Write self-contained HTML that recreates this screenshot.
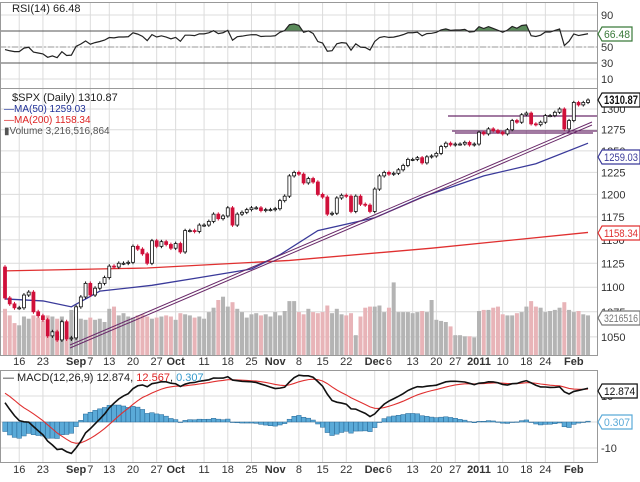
<!DOCTYPE html>
<html><head><meta charset="utf-8"><style>
html,body{margin:0;padding:0;background:#fff;}
svg{display:block;font-family:"Liberation Sans",sans-serif;}
</style></head><body>
<svg id="chart" width="640" height="482" viewBox="0 0 640 482" xmlns="http://www.w3.org/2000/svg">
<rect x="0" y="0" width="640" height="482" fill="#fff"/>
<g id="grid"></g>
<g id="rsi"></g>
<g id="vol"></g>
<g id="price"></g>
<g id="macd"></g>
<g id="axes"></g>
<g id="legends">
<text x="12" y="12" font-size="11" fill="#222">RSI(14) 66.48</text>
<text x="12" y="101" font-size="11" fill="#222">$SPX (Daily) 1310.87</text>
<text x="4" y="112" font-size="10" fill="#223399">—MA(50) 1259.03</text>
<text x="4" y="123" font-size="10" fill="#dd2222">—MA(200) 1158.34</text>
<text x="4" y="134" font-size="10" fill="#555">▮Volume 3,216,516,864</text>
<text x="3" y="381" font-size="11" fill="#222">— MACD(12,26,9) 12.874, <tspan fill="#dd2222">12.567</tspan>, <tspan fill="#3399cc">0.307</tspan></text>
</g>
</svg>
<script>
const closes=[1089,1083,1079,1079,1092,1095,1075,1071,1067,1051,1055,1047,1065,1048,1049,
1080,1090,1104,1092,1099,1104,1110,1122,1121,1125,1125,1126,1143,1140,1135,1125,1149,1143,1148,1145,1141,1146,
1137,1160,1160,1159,1166,1166,1170,1178,1173,1176,1185,1166,1178,1180,1183,1185,1185,1182,1183,1183,
1184,1193,1198,1221,1225,1223,1213,1218,1214,1200,1197,1178,1179,1196,1199,1198,1181,1198,1189,1188,1181,
1206,1221,1225,1223,1224,1228,1233,1240,1240,1242,1236,1243,1244,1247,1255,1259,1257,1258,1258,1260,1257,1258,
1272,1270,1276,1274,1272,1270,1275,1286,1284,1293,1295,1282,1281,1284,1292,1292,1296,1300,1276,1286,
1308,1305,1308,1311];
const volumes=[4.2,3.6,2.9,2.7,3.5,3.3,3.6,3.4,3.1,3.6,3.5,3.3,3.5,3.0,4.1,
3.5,3.3,3.2,3.4,3.2,3.3,3.0,4.2,4.4,3.6,3.8,3.5,3.4,3.6,3.7,3.5,3.3,3.4,3.5,3.6,3.5,3.2,
3.8,3.7,3.6,3.4,3.5,3.3,3.9,4.3,5.0,5.3,4.4,4.8,4.2,3.9,3.4,3.7,3.8,3.6,3.7,3.5,
3.9,3.6,4.0,4.9,4.9,3.9,3.7,4.2,3.9,3.8,3.9,4.5,3.8,4.2,3.7,3.6,3.8,1.8,3.5,4.3,4.4,
4.4,4.5,3.9,4.3,6.6,3.9,3.9,3.9,3.8,3.9,4.0,3.9,5.0,3.2,3.1,3.0,2.6,1.8,1.8,1.7,1.7,1.6,
4.0,4.1,4.1,4.3,4.4,3.7,3.6,3.6,3.8,3.9,4.4,4.9,4.4,4.3,3.9,4.0,4.1,4.3,4.8,4.1,
3.9,4.0,3.7,3.6];
const ma50Idx=[0,8,14,20,31,41,52,58,66,78,88,101,112,123];
const ma50Val=[1088,1086,1080,1096,1102,1110,1119,1134,1160,1174,1197,1221,1235,1259];
const ma200Idx=[0,30,60,90,123];
const ma200Val=[1117,1120,1128,1141,1158];
const dateLabels=["16","23","Sep","7","13","20","27","Oct","11","18","25","Nov","8","15","22","Dec","6","13","20","27","2011","10","18","24","Feb"];
const dateIdx=[3,8,15,18,22,27,32,36,42,47,52,57,62,67,72,78,81,86,91,95,100,105,110,114,120];
const priceTicks=[1050,1075,1100,1125,1150,1175,1200,1225,1250,1275,1300];
const rsiTicks=[90,50,30,10];
const macdTicks=[10,-10];
const firstOpen=1121;

const NS="http://www.w3.org/2000/svg";
const R=597;
function X(i){return 5+i*4.74;}
function PY(p){return 109+1067*Math.log(1300/p);}
function RY(v){return 47-(v-50)*0.8;}
function MY(v){return 422-v*2.6;}
function mk(tag,attrs,parent){const e=document.createElementNS(NS,tag);for(const k in attrs)e.setAttribute(k,attrs[k]);parent.appendChild(e);return e;}
const G=id=>document.getElementById(id);

const grid=G('grid');
dateIdx.forEach(i=>{
 [[2,88],[88,355],[370,462]].forEach(([a,b])=>{const l=mk('line',{x1:X(i),x2:X(i),y1:a,y2:b,stroke:'#dcdcdc','stroke-width':1},grid);
 
 });
});
priceTicks.forEach(p=>{const l=mk('line',{x1:0,x2:R,y1:PY(p),y2:PY(p),stroke:'#dcdcdc'},grid);
 
 });
rsiTicks.forEach(v=>{const l=mk('line',{x1:0,x2:R,y1:RY(v),y2:RY(v),stroke:'#dcdcdc'},grid);
 
 });
macdTicks.concat([0]).forEach(v=>{const l=mk('line',{x1:0,x2:R,y1:MY(v),y2:MY(v),stroke:'#dcdcdc'},grid);
 
 });

const ax=G('axes');
[[2,88],[88,355],[370,462]].forEach(([a,b])=>{const r=mk('rect',{x:0.5,y:a+0.5,width:R,height:b-a,fill:'none',stroke:'#999'},ax);
 
 });

const rsiG=G('rsi');
let ag=7,al=5.5,prev=firstOpen;const rsi=[];
closes.forEach(c=>{const d=c-prev;ag=(ag*13+Math.max(d,0))/14;al=(al*13+Math.max(-d,0))/14;rsi.push(100-100/(1+ag/al));prev=c;});
const defs=mk('defs',{},rsiG);const cp=mk('clipPath',{id:'ob'},defs);mk('rect',{x:0,y:0,width:R,height:RY(70)},cp);
let area='M'+X(0)+','+RY(70)+rsi.map((v,i)=>'L'+X(i)+','+RY(v)).join('')+'L'+X(rsi.length-1)+','+RY(70)+'Z';
const fa=mk('path',{d:area,fill:'#5a8a5a','clip-path':'url(#ob)'},rsiG);


[[70,'none'],[30,'none'],[50,'6,2,2,2']].forEach(([v,da])=>{const l=mk('line',{x1:0,x2:R,y1:RY(v),y2:RY(v),stroke:v==50?'#999':'#555','stroke-dasharray':da},rsiG);
 
 });
const rl=mk('polyline',{points:rsi.map((v,i)=>X(i)+','+RY(v)).join(' '),fill:'none',stroke:'#222','stroke-width':1.2},rsiG);



const vg=G('vol');
volumes.forEach((v,i)=>{const down=i>0?closes[i]<closes[i-1]:true;const h=v*11;
 const b=mk('rect',{x:X(i)-2,y:355-h,width:4,height:h,fill:down?'#e8b4b8':'#b4b4b4'},vg);
 
 });

const pg=G('price');
function lineFrom(idx,val,color,name){const l=mk('polyline',{points:idx.map((k,j)=>X(k)+','+PY(val[j])).join(' '),fill:'none',stroke:color,'stroke-width':1.3},pg);
 
 }
lineFrom(ma200Idx,ma200Val,'#e03030','ma200-line');
lineFrom(ma50Idx,ma50Val,'#3a3a9a','ma50-line');
[[70,348,592,125],[70,345,592,122]].forEach(([a,b,c,d])=>{const l=mk('line',{x1:a,y1:b,x2:c,y2:d,stroke:'#6a2a6a','stroke-width':1},pg);
 
 });
[[448,597,116],[452,597,131],[455,593,133]].forEach(([a,b,y])=>{const l=mk('line',{x1:a,x2:b,y1:y,y2:y,stroke:'#6a2a6a','stroke-width':1.2},pg);
 
 });
closes.forEach((c,i)=>{const o=i>0?closes[i-1]:firstOpen;const up=c>=o;const col=up?'#111':'#d0103a';
 const hi=Math.max(o,c)+2,lo=Math.min(o,c)-2;const x=X(i);
 const w=mk('line',{x1:x,x2:x,y1:PY(hi),y2:PY(lo),stroke:col},pg);
 
 
 const t=PY(Math.max(o,c)),bt=PY(Math.min(o,c));
 const r=mk('rect',{x:x-1.5,y:t,width:3,height:Math.max(bt-t,1),fill:up?'#fff':col,stroke:col,'stroke-width':0.8},pg);
 
 });

const mg=G('macd');
let e12=1112,e26=1102,sig=12;const macd=[],sg=[];
const k12=2/13,k26=2/27,k9=2/10;
closes.forEach(c=>{e12=c*k12+e12*(1-k12);e26=c*k26+e26*(1-k26);const m=e12-e26;sig=m*k9+sig*(1-k9);macd.push(m);sg.push(sig);});
macd.forEach((m,i)=>{const h=m-sg[i];const y0=MY(0),y1=MY(h);
 const b=mk('rect',{x:X(i)-2.3,y:Math.min(y0,y1),width:4.6,height:Math.max(Math.abs(y1-y0),0.5),fill:'#5aaad8',stroke:'#2a6a98','stroke-width':0.5},mg);
 
 });
const sl=mk('polyline',{points:sg.map((v,i)=>X(i)+','+MY(v)).join(' '),fill:'none',stroke:'#e03030','stroke-width':1.1},mg);


const ml=mk('polyline',{points:macd.map((v,i)=>X(i)+','+MY(v)).join(' '),fill:'none',stroke:'#111','stroke-width':1.6},mg);



dateLabels.forEach((s,j)=>{const bold=isNaN(+s)||s=="2011";
 [361,469].forEach(y=>{const t=mk('text',{x:X(dateIdx[j]),y:y+4,'font-size':11,'text-anchor':'middle','font-weight':bold?'bold':'normal',fill:'#333'},ax);t.textContent=s;
 
 });});
priceTicks.forEach(p=>{const t=mk('text',{x:601,y:PY(p)+4,'font-size':11,fill:'#333'},ax);t.textContent=p;
 
 });
rsiTicks.concat([70]).forEach(v=>{const t=mk('text',{x:601,y:RY(v)+4,'font-size':11,fill:'#333'},ax);t.textContent=v;
 
 });
macdTicks.forEach(v=>{const t=mk('text',{x:601,y:MY(v)+4,'font-size':11,fill:'#333'},ax);t.textContent=v;
 
 });
function tag(y,txt,col,bold,name){const tw=Math.min(txt.length*5.2,34);const w=tw+4;
 const p=mk('path',{d:`M598,${y} L602,${y-7} L${602+w},${y-7} L${602+w},${y+7} L602,${y+7} Z`,fill:'#fff',stroke:col,'stroke-width':1.2},ax);
 
 
 const t=mk('text',{x:604,y:y+4,'font-size':bold?12:11,'font-weight':bold?'bold':'normal',fill:bold?'#111':col,textLength:tw,lengthAdjust:'spacingAndGlyphs'},ax);t.textContent=txt;
 
 }
tag(34,'66.48','#3a7a3a',false,'rsi-value-tag');
tag(100,'1310.87','#111',true,'price-value-tag');
tag(157,'1259.03','#3a3a9a',false,'ma50-value-tag');
tag(233,'1158.34','#e03030',false,'ma200-value-tag');
tag(318,'3216516','#777',false,'volume-value-tag');
tag(391,'12.874','#111',false,'macd-value-tag');
tag(422,'0.307','#5aaad8',false,'histogram-value-tag');
</script>
</body></html>
